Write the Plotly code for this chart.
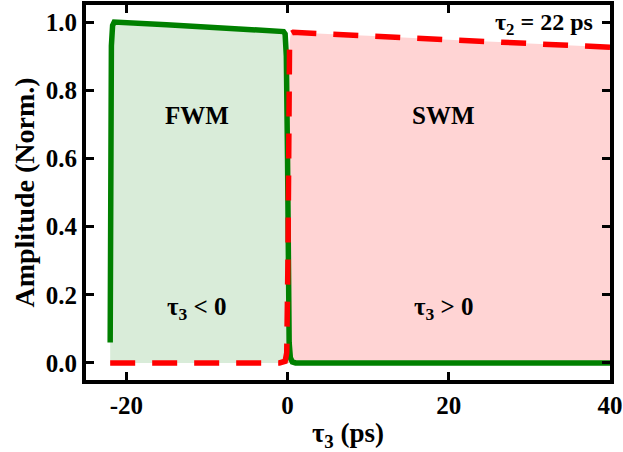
import plotly.graph_objects as go

# FWM (green) trace, tau3 < 0
fwm_x = [-22.0, -21.95, -21.85, -21.7, -21.5, -15.0, -10.0, -5.0, -1.0, -0.5, -0.3, -0.15, 0.0, 0.1, 0.2, 0.35, 0.6, 1.0, 10.0, 20.0, 30.0, 40.0]
fwm_y = [0.06, 0.60, 0.93, 0.99, 1.00, 0.992, 0.986, 0.979, 0.974, 0.972, 0.965, 0.90, 0.60, 0.25, 0.06, 0.015, 0.003, 0.0, 0.0, 0.0, 0.0, 0.0]
# SWM (red dashed) trace, tau3 > 0
swm_x = [-22.0, -15.0, -10.0, -5.0, -1.0, -0.3, -0.1, 0.05, 0.15, 0.25, 0.4, 0.7, 5.0, 10.0, 20.0, 30.0, 40.0]
swm_y = [0.0, 0.0, 0.0, 0.0, 0.0, 0.005, 0.03, 0.30, 0.75, 0.94, 0.966, 0.970, 0.965, 0.960, 0.948, 0.937, 0.926]

x_ticks = [-20, 0, 20, 40]
y_ticks = [0.0, 0.2, 0.4, 0.6, 0.8, 1.0]
y_ticklabels = ["0.0", "0.2", "0.4", "0.6", "0.8", "1.0"]

FONT = "Liberation Serif"

fig = go.Figure()
fig.add_trace(go.Scatter(x=fwm_x, y=fwm_y, mode="none", fill="tozeroy",
                         fillcolor="rgba(0,128,0,0.15)", showlegend=False, hoverinfo="skip"))
fig.add_trace(go.Scatter(x=swm_x, y=swm_y, mode="none", fill="tozeroy",
                         fillcolor="rgba(255,0,0,0.17)", showlegend=False, hoverinfo="skip"))
fig.add_trace(go.Scatter(x=fwm_x, y=fwm_y, mode="lines",
                         line=dict(color="#008000", width=5.5), showlegend=False))
fig.add_trace(go.Scatter(x=swm_x, y=swm_y, mode="lines",
                         line=dict(color="#ff0000", width=5.5, dash="25px,17px"), showlegend=False))

ann_font = dict(family=FONT, size=25, color="black")
fig.add_annotation(x=-11.2, y=0.725, text="<b>FWM</b>", showarrow=False, font=ann_font)
fig.add_annotation(x=19.4, y=0.725, text="<b>SWM</b>", showarrow=False, font=ann_font)
fig.add_annotation(x=-11.2, y=0.16, text="<b>τ<sub>3</sub> < 0</b>", showarrow=False,
                   font=dict(family=FONT, size=25, color="black"))
fig.add_annotation(x=19.4, y=0.16, text="<b>τ<sub>3</sub> > 0</b>", showarrow=False,
                   font=dict(family=FONT, size=25, color="black"))
fig.add_annotation(x=38.2, y=0.995, xanchor="right", text="<b>τ<sub>2</sub> = 22 ps</b>",
                   showarrow=False, font=dict(family=FONT, size=24, color="black"))

axis_common = dict(
    showline=True, linecolor="black", linewidth=4, mirror="allticks",
    ticks="inside", ticklen=8, tickwidth=3, tickcolor="black",
    showgrid=False, zeroline=False, automargin=False,
    tickfont=dict(family=FONT, size=25, color="black"),
)

fig.update_xaxes(range=[-25, 40], tickvals=x_ticks, ticktext=[f"<b>{v}</b>" for v in x_ticks],
                 title=dict(text="<b>τ<sub>3</sub> (ps)</b>", font=dict(family=FONT, size=27, color="black"),
                            standoff=6),
                 **axis_common)
fig.update_yaxes(range=[-0.05, 1.05], tickvals=y_ticks, ticktext=[f"<b>{t}</b>" for t in y_ticklabels],
                 title=dict(text="<b>Amplitude (Norm.)</b>", font=dict(family=FONT, size=28, color="black"),
                            standoff=4),
                 **axis_common)

fig.update_layout(width=623, height=452, margin=dict(l=86, r=13, t=5, b=72, autoexpand=False),
                  plot_bgcolor="white", paper_bgcolor="white")

fig.write_html("out.html", config={"displayModeBar": False},
               post_script="document.body.style.margin='0';")
